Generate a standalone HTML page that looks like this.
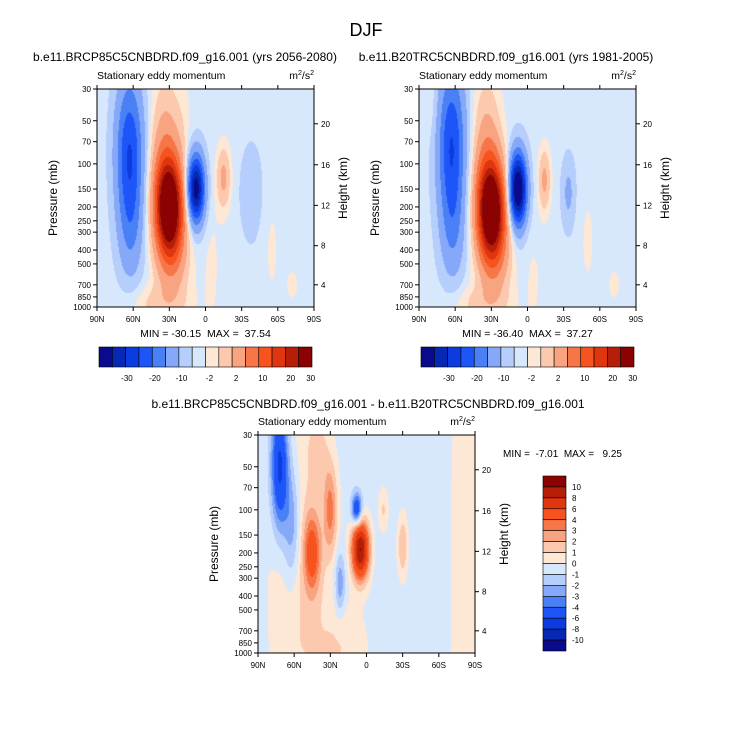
<!DOCTYPE html>
<html><head><meta charset="utf-8">
<style>
body{margin:0;background:#fff;width:733px;height:746px;position:relative;overflow:hidden;font-family:"Liberation Sans",sans-serif;}
canvas{position:absolute;}
svg{position:absolute;left:0;top:0;}
text{white-space:pre;}
</style></head>
<body>
<canvas id="c1"></canvas>
<canvas id="c2"></canvas>
<canvas id="c3"></canvas>
<svg id="ov" width="733" height="746"></svg>
<script>
// data
const pressureTicks=[30,50,70,100,150,200,250,300,400,500,700,850,1000];
const heightTicks=[20,16,12,8,4];
const heightTickP=[52.5,101.5,195,373,700];
const latTicks=[90,60,30,0,-30,-60,-90];
const latLabels=["90N","60N","30N","0","30S","60S","90S"];
const colors=["#0a0a8c","#0628b2","#0a3ce0","#1e55f8","#4a80f5","#86a8f8","#b6cefb","#d8e8fc","#fde7d5","#fcc9ae","#f9a481","#f77648","#f6531f","#e03610","#b51f08","#8a0202"];
const levelsTop=[-30,-25,-20,-15,-10,-5,-2,0,2,5,10,15,20,25,30];
const levelsDiff=[-10,-8,-6,-4,-3,-2,-1,0,1,2,3,4,6,8,10];
const diffLabels=["10","8","6","4","3","2","1","0","-1","-2","-3","-4","-6","-8","-10"];
const topLabels=["-30","-20","-10","-2","2","10","20","30"];
const topLabelPos=[2.1,4.2,6.2,8.3,10.3,12.3,14.4,15.9];
// blobs: [lat, pressure, amplitude, sigmaLat, sigmaLnP]
const blobsA=[[63,85,-19,8,0.85],[62,300,-6,7,0.6],[30,200,40,8,0.55],[34,100,8,8,0.9],[26,450,6,9,0.5],[8,150,-33,5,0.38],[-15,125,7,4,0.35],[-38,160,-4,6,0.5],[40,950,3.5,18,0.22],[-72,700,2.5,3,0.15],[-5,500,1.3,6,0.8],[-55,400,1.2,6,0.8],[20,50,1.5,6,0.6]];
const blobsB=[[63,75,-19,8,0.9],[62,300,-6,7,0.6],[30,210,40,8,0.55],[34,100,8,8,0.9],[26,450,6,9,0.5],[8,150,-38,5,0.4],[-14,130,7,3.5,0.35],[-34,160,-5,4,0.4],[40,950,3.5,18,0.22],[-72,700,2.5,3,0.15],[-5,650,1.3,5,0.5],[-50,350,1.2,6,0.8],[80,40,1.5,5,0.4]];
const blobsC=[[72,50,-6.5,5,0.7],[62,130,-3,5,0.7],[45,200,4.5,5,0.45],[30,100,3.5,4,0.5],[5,190,10.5,5,0.33],[8,100,-6,3,0.18],[22,330,-2.6,3,0.35],[-30,180,2.5,3,0.35],[-14,100,1.6,3,0.25],[55,300,1.6,18,2.2],[20,900,1.3,15,0.5],[-85,300,1.5,10,5],[40,40,1.5,6,0.4]];
const bgA=-1.0,bgB=-1.0,bgC=-0.5;

const panels=[
 {id:"c1",x:97,y:89,w:217,h:218,blobs:blobsA,bg:bgA,lev:levelsTop},
 {id:"c2",x:419,y:89,w:217,h:218,blobs:blobsB,bg:bgB,lev:levelsTop},
 {id:"c3",x:258,y:435,w:217,h:218,blobs:blobsC,bg:bgC,lev:levelsDiff}];
const L30=Math.log(30),L1000=Math.log(1000);
function yOf(p,P){return P.y+(Math.log(p)-L30)/(L1000-L30)*P.h;}
function xOf(lat,P){return P.x+(90-lat)/180*P.w;}
function field(lat,lnp,P){let v=P.bg;for(const b of P.blobs){const dx=(lat-b[0])/b[3],dy=(lnp-Math.log(b[1]))/b[4];v+=b[2]*Math.exp(-0.5*(dx*dx+dy*dy));}return v;}
function colorIdx(v,lev){let i=0;while(i<lev.length&&v>=lev[i])i++;return Math.min(15,i);}
function hexRGB(h){return [parseInt(h.substr(1,2),16),parseInt(h.substr(3,2),16),parseInt(h.substr(5,2),16)];}
const rgb=colors.map(hexRGB);
for(const P of panels){
 const c=document.getElementById(P.id);c.width=P.w;c.height=P.h;c.style.left=P.x+"px";c.style.top=P.y+"px";
 const ctx=c.getContext("2d");const img=ctx.createImageData(P.w,P.h);
 for(let j=0;j<P.h;j++){const lnp=L30+(j+0.5)/P.h*(L1000-L30);
  for(let i=0;i<P.w;i++){const lat=90-(i+0.5)/P.w*180;const k=colorIdx(field(lat,lnp,P),P.lev);
   const o=(j*P.w+i)*4;img.data[o]=rgb[k][0];img.data[o+1]=rgb[k][1];img.data[o+2]=rgb[k][2];img.data[o+3]=255;}}
 ctx.putImageData(img,0,0);
}
const svg=document.getElementById("ov");const NS="http://www.w3.org/2000/svg";
function el(t,a,txt){const e=document.createElementNS(NS,t);for(const k in a)e.setAttribute(k,a[k]);if(txt!==undefined)e.textContent=txt;svg.appendChild(e);return e;}
function txt(x,y,s,size,anchor,name,extra){const e=el("text",Object.assign({x:x,y:y,"font-size":size,"text-anchor":anchor||"start",fill:"#000","font-family":"Liberation Sans, sans-serif"},extra||{}),s);

return e;}
txt(366,36,"DJF",18,"middle","main-title");
txt(185,61,"b.e11.BRCP85C5CNBDRD.f09_g16.001 (yrs 2056-2080)",12,"middle","left-panel-title");
txt(506,61,"b.e11.B20TRC5CNBDRD.f09_g16.001 (yrs 1981-2005)",12,"middle","right-panel-title");
txt(368,408,"b.e11.BRCP85C5CNBDRD.f09_g16.001 - b.e11.B20TRC5CNBDRD.f09_g16.001",12,"middle","diff-panel-title");
const minmax=["MIN = -30.15  MAX =  37.54","MIN = -36.40  MAX =  37.27"];
panels.forEach((P,idx)=>{
 const r=el("rect",{x:P.x,y:P.y,width:P.w,height:P.h,fill:"none",stroke:"#000","stroke-width":1});
 
 
 txt(P.x,P.y-10,"Stationary eddy momentum",10.5,"start","subtitle-left");
 const u=txt(P.x+P.w,P.y-10,"m",10.5,"end","units-label");
 u.innerHTML='m<tspan dy="-4" font-size="7">2</tspan><tspan dy="4">/s</tspan><tspan dy="-4" font-size="7">2</tspan>';
 pressureTicks.forEach(p=>{const y=yOf(p,P);el("line",{x1:P.x-4,y1:y,x2:P.x,y2:y,stroke:"#000"});txt(P.x-6,y+3,String(p),8,"end","pressure-tick-label");});
 heightTicks.forEach((h,i)=>{const y=yOf(heightTickP[i],P);el("line",{x1:P.x+P.w,y1:y,x2:P.x+P.w+4,y2:y,stroke:"#000"});txt(P.x+P.w+7,y+3,String(h),8,"start","height-tick-label");});
 latTicks.forEach((l,i)=>{const x=xOf(l,P);el("line",{x1:x,y1:P.y+P.h,x2:x,y2:P.y+P.h+4,stroke:"#000"});el("line",{x1:x,y1:P.y-4,x2:x,y2:P.y,stroke:"#000"});txt(x,P.y+P.h+15,latLabels[i],8,"middle","lat-tick-label");});
 txt(P.x-40,P.y+P.h/2,"Pressure (mb)",12,"middle","y-axis-title",{transform:`rotate(-90 ${P.x-40} ${P.y+P.h/2})`});
 txt(P.x+P.w+33,P.y+P.h/2-10,"Height (km)",12,"middle","right-axis-title",{transform:`rotate(-90 ${P.x+P.w+33} ${P.y+P.h/2-10})`});
 if(idx<2){
  txt(P.x+P.w/2,P.y+P.h+30,minmax[idx],10.5,"middle","min-max-label");
  const bx=P.x+2,bw=213/16;
  colors.forEach((c,k)=>{const b=el("rect",{x:bx+k*bw,y:347,width:bw,height:20,fill:c,stroke:"#000","stroke-width":0.6});
   
   });
  topLabels.forEach((s,k)=>txt(bx+topLabelPos[k]*bw,381,s,8,"middle","colorbar-label"));
 }
});
txt(503,457,"MIN =  -7.01  MAX =   9.25",10,"start","diff-min-max");
const bh=175/16;
for(let k=0;k<16;k++){const b=el("rect",{x:543,y:476+k*bh,width:23,height:bh,fill:colors[15-k],stroke:"#000","stroke-width":0.6});
 
 }
diffLabels.forEach((s,k)=>txt(572,476+(k+1)*bh+3,s,8,"start","diff-colorbar-label"));
</script>
</body></html>
